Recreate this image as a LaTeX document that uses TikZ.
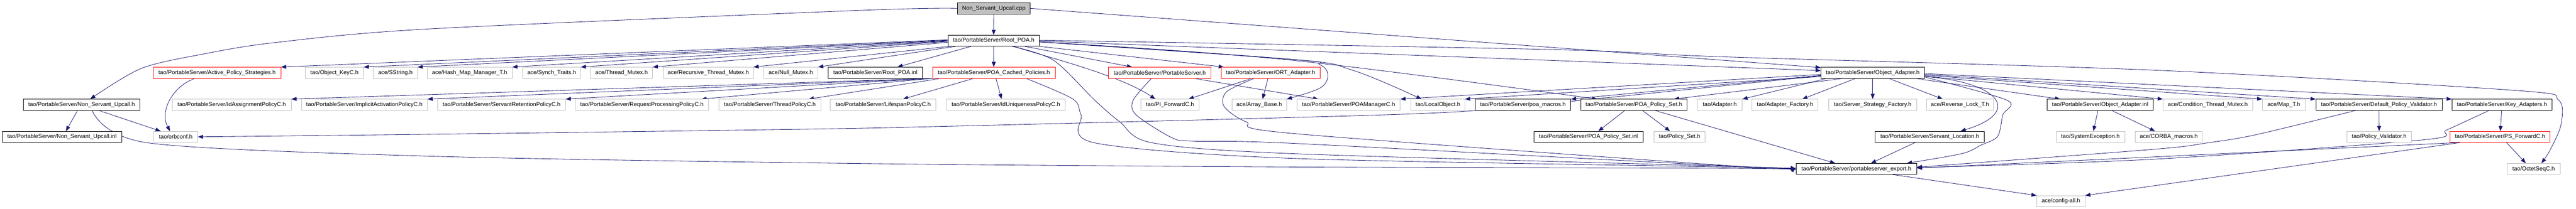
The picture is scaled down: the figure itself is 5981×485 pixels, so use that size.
\documentclass[tikz,border=0pt]{standalone}
\usepackage{fontspec}
\setmainfont{Liberation Sans}
\usetikzlibrary{arrows.meta,backgrounds}
\definecolor{edgeblue}{HTML}{191970}
\definecolor{grey75}{HTML}{BFBFBF}

\begin{document}
\begin{tikzpicture}[x=1pt,y=-1pt,
    hdr/.style={draw=black,fill=white,line width=1pt,inner sep=0pt,minimum height=25.5pt,font=\fontsize{13.3}{16}\selectfont},
    sys/.style={hdr,draw=grey75},
    bad/.style={hdr,draw=red},
    srcfile/.style={hdr,fill=grey75},
    inc/.style={draw=edgeblue,line width=1pt,-{Triangle[length=12pt,width=9pt]}}]
  \useasboundingbox (0,0) rectangle (5981,485);

  \node[srcfile,minimum width=169] (cpp) at (2307.5,19.5) {Non\_Servant\_Upcall.cpp};
  \node[hdr,minimum width=212] (rpoa) at (2307,94.5) {tao/PortableServer/Root\_POA.h};
  % row 2
  \node[bad,minimum width=296] (aps) at (504,169) {tao/PortableServer/Active\_Policy\_Strategies.h};
  \node[sys,minimum width=135] (okey) at (776.5,169) {tao/Object\_KeyC.h};
  \node[sys,minimum width=102] (sstr) at (918,169) {ace/SString.h};
  \node[sys,minimum width=197] (hmap) at (1090.5,169) {ace/Hash\_Map\_Manager\_T.h};
  \node[sys,minimum width=134] (synch) at (1281,169) {ace/Synch\_Traits.h};
  \node[sys,minimum width=144] (tmutex) at (1443,169) {ace/Thread\_Mutex.h};
  \node[sys,minimum width=209] (rtmutex) at (1644.5,169) {ace/Recursive\_Thread\_Mutex.h};
  \node[sys,minimum width=126] (nmutex) at (1836,169) {ace/Null\_Mutex.h};
  \node[hdr,minimum width=219] (rpoainl) at (2032.5,169) {tao/PortableServer/Root\_POA.inl};
  \node[bad,minimum width=285] (cached) at (2307.5,169) {tao/PortableServer/POA\_Cached\_Policies.h};
  \node[bad,minimum width=239] (pserver) at (2692.5,169) {tao/PortableServer/PortableServer.h};
  \node[bad,minimum width=230] (ort) at (2950,169) {tao/PortableServer/ORT\_Adapter.h};
  \node[hdr,minimum width=240] (oa) at (4348,169) {tao/PortableServer/Object\_Adapter.h};
  % row 3
  \node[hdr,minimum width=271] (nsuh) at (189.5,243.5) {tao/PortableServer/Non\_Servant\_Upcall.h};
  \node[sys,minimum width=276] (idassign) at (538,243.5) {tao/PortableServer/IdAssignmentPolicyC.h};
  \node[sys,minimum width=292] (implact) at (846,243.5) {tao/PortableServer/ImplicitActivationPolicyC.h};
  \node[sys,minimum width=297] (servret) at (1164.5,243.5) {tao/PortableServer/ServantRetentionPolicyC.h};
  \node[sys,minimum width=309] (reqproc) at (1490.5,243.5) {tao/PortableServer/RequestProcessingPolicyC.h};
  \node[sys,minimum width=237] (threadp) at (1787.5,243.5) {tao/PortableServer/ThreadPolicyC.h};
  \node[sys,minimum width=245] (lifespan) at (2050.5,243.5) {tao/PortableServer/LifespanPolicyC.h};
  \node[sys,minimum width=275] (iduniq) at (2335.5,243.5) {tao/PortableServer/IdUniquenessPolicyC.h};
  \node[sys,minimum width=135] (piforw) at (2716.5,243.5) {tao/PI\_ForwardC.h};
  \node[sys,minimum width=127] (arrbase) at (2923.5,243.5) {ace/Array\_Base.h};
  \node[sys,minimum width=240] (poamgr) at (3131,243.5) {tao/PortableServer/POAManagerC.h};
  \node[sys,minimum width=125] (localobj) at (3338.5,243.5) {tao/LocalObject.h};
  \node[hdr,minimum width=222] (macros) at (3536,243.5) {tao/PortableServer/poa\_macros.h};
  \node[hdr,minimum width=247] (pset) at (3793.5,243.5) {tao/PortableServer/POA\_Policy\_Set.h};
  \node[sys,minimum width=104] (adapter) at (3993,243.5) {tao/Adapter.h};
  \node[sys,minimum width=153] (adfact) at (4144.5,243.5) {tao/Adapter\_Factory.h};
  \node[sys,minimum width=204] (ssfact) at (4348,243.5) {tao/Server\_Strategy\_Factory.h};
  \node[sys,minimum width=155] (revlock) at (4550.5,243.5) {ace/Reverse\_Lock\_T.h};
  \node[hdr,minimum width=246] (oainl) at (4876,243.5) {tao/PortableServer/Object\_Adapter.inl};
  \node[sys,minimum width=208] (condmutex) at (5126,243.5) {ace/Condition\_Thread\_Mutex.h};
  \node[sys,minimum width=99] (mapt) at (5302.5,243.5) {ace/Map\_T.h};
  \node[hdr,minimum width=293] (defval) at (5523.5,243.5) {tao/PortableServer/Default\_Policy\_Validator.h};
  \node[hdr,minimum width=232] (keyad) at (5809,243.5) {tao/PortableServer/Key\_Adapters.h};
  % row 4
  \node[hdr,minimum width=278] (nsuinl) at (144,318) {tao/PortableServer/Non\_Servant\_Upcall.inl};
  \node[sys,minimum width=102] (orbconf) at (408,318) {tao/orbconf.h};
  \node[hdr,minimum width=254] (psetinl) at (3688,318) {tao/PortableServer/POA\_Policy\_Set.inl};
  \node[sys,minimum width=119] (policyset) at (3899.5,318) {tao/Policy\_Set.h};
  \node[hdr,minimum width=253] (servloc) at (4480.5,318) {tao/PortableServer/Servant\_Location.h};
  \node[sys,minimum width=159] (sysexc) at (4853.5,318) {tao/SystemException.h};
  \node[sys,minimum width=155] (corbam) at (5035.5,318) {ace/CORBA\_macros.h};
  \node[sys,minimum width=150] (polval) at (5524,318) {tao/Policy\_Validator.h};
  \node[bad,minimum width=233] (psforw) at (5804.5,318) {tao/PortableServer/PS\_ForwardC.h};
  % rows 5 and 6
  \node[hdr,minimum width=280] (export) at (4310,392.5) {tao/PortableServer/portableserver\_export.h};
  \node[sys,minimum width=123] (octet) at (5882.5,392.5) {tao/OctetSeqC.h};
  \node[sys,minimum width=112] (config) at (4785,467.5) {ace/config-all.h};

  \begin{pgfonlayer}{background}
    % Non_Servant_Upcall.cpp
    \draw[inc] (cpp) -- (rpoa);
    \draw[inc] plot[smooth,tension=0.5] coordinates {(cpp.west) (2000,24) (1000,67) (638,99) (475,125) (328,159) ([xshift=20pt]nsuh.north)};
    \draw[inc] (cpp.east) -- ([yshift=12pt]oa.west);
    % Root_POA.h
    \draw[inc] ([yshift=2pt]rpoa.west) -- (aps.north east);
    \draw[inc] ([yshift=1pt]rpoa.west) -- (okey.north east);
    \draw[inc] (rpoa.west) -- (sstr.north east);
    \draw[inc] ([yshift=-1pt]rpoa.west) -- (hmap.north east);
    \draw[inc] ([yshift=-2pt]rpoa.west) -- (synch.north east);
    \draw[inc] ([yshift=-4pt]rpoa.west) -- (tmutex.north east);
    \draw[inc] ([xshift=4pt]rpoa.south west) -- (rtmutex.north east);
    \draw[inc] ([xshift=18pt]rpoa.south west) -- (nmutex.north east);
    \draw[inc] ([xshift=54pt]rpoa.south west) -- ([xshift=51pt]rpoainl.north);
    \draw[inc] (rpoa) -- (cached);
    \draw[inc] ([xshift=179pt]rpoa.south west) -- ([xshift=-64pt]pserver.north);
    \draw[inc] (rpoa.south east) -- ([xshift=7pt]ort.north west);
    \draw[inc] ([xshift=153pt]rpoa.south west) .. controls (2440,135) and (2600,175) .. ([xshift=-34pt]piforw.north);
    \draw[inc] plot[smooth,tension=0.5] coordinates {([xshift=150pt]rpoa.south west) (2446,140) (2542,233) (2600,283) (2676,332) (3000,357) (4000,386) ([yshift=1pt]export.west)};
    \draw[inc] plot[smooth,tension=0.6] coordinates {([yshift=-3pt]rpoa.east) (3000,138) (3064,150) (3083,175) (3064,205) (arrbase.north east)};
    \draw[inc] plot[smooth,tension=0.6] coordinates {([yshift=-3pt]rpoa.east) (3000,138) (3140,163) ([xshift=-38pt]localobj.north)};
    \draw[inc] plot[smooth,tension=0.6] coordinates {([yshift=-3pt]rpoa.east) (3000,140) ([xshift=-85pt]pset.north)};
    \draw[inc] ([yshift=-1pt]rpoa.east) -- ([yshift=5pt]oa.west);
    \draw[inc] plot[smooth,tension=0.5] coordinates {([yshift=1pt]rpoa.east) (3600,115) (4000,132) (5000,163) (5839,210) (5940,232) (5946,290) (5920,350) ([xshift=18pt]octet.north)};
    % POA_Cached_Policies.h
    \draw[inc] (cached.south west) -- (idassign.north east);
    \draw[inc] (cached.south west) -- (implact.north east);
    \draw[inc] (cached.south west) -- (servret.north east);
    \draw[inc] (cached.south west) -- ([xshift=-17pt]reqproc.north east);
    \draw[inc] ([xshift=20pt]cached.south west) -- ([xshift=-29pt]threadp.north east);
    \draw[inc] ([xshift=96pt]cached.south west) -- ([xshift=46pt]lifespan.north);
    \draw[inc] ([xshift=5pt]cached.south) -- ([xshift=-10pt]iduniq.north);
    \draw[inc] plot[smooth,tension=0.5] coordinates {([xshift=75pt]cached.south) (2491,230) (2510,267) (2542,332) (3000,368) (4000,388) ([yshift=-1pt]export.west)};
    % PortableServer.h and ORT_Adapter.h
    \draw[inc] ([xshift=80pt]pserver.south) -- ([xshift=-70pt]poamgr.north);
    \draw[inc] plot[smooth,tension=0.5] coordinates {([xshift=-19pt]pserver.south) (2631,233) (2638,267) (2721,320) (2772,328) (3000,333) (4000,385) ([yshift=2pt]export.west)};
    \draw[inc] ([xshift=-44pt]ort.south) -- ([xshift=43pt]piforw.north);
    \draw[inc] ([xshift=-6pt]ort.south) -- ([xshift=8pt]arrbase.north);
    \draw[inc] plot[smooth,tension=0.5] coordinates {([xshift=-38pt]ort.south) (2848,213) (2842,247) (2893,283) (3000,310) (4000,384) ([yshift=3pt]export.west)};
    % Non_Servant_Upcall.h and Active_Policy_Strategies.h
    \draw[inc] ([xshift=-9.5pt]nsuh.south) -- ([xshift=9pt]nsuinl.north);
    \draw[inc] ([xshift=40pt]nsuh.south) -- ([xshift=-35pt]orbconf.north);
    \draw[inc] plot[smooth,tension=0.5] coordinates {([xshift=24.5pt]nsuh.south) (344,332) (1000,363) (2000,380) (3000,388) (4000,391) ([yshift=-2pt]export.west)};
    \draw[inc] ([xshift=-51pt]aps.south) .. controls (400,200) and (370,260) .. ([xshift=-13pt]orbconf.north);
    % Object_Adapter.h
    \draw[inc] ([yshift=-4pt]oa.west) -- (poamgr.north east);
    \draw[inc] ([yshift=-6pt]oa.west) -- (macros.north east);
    \draw[inc] plot[smooth,tension=0.3] coordinates {([yshift=-7pt]oa.west) (3424,257) (3000,273) (2000,298) (1000,312) (orbconf.east)};
    \draw[inc] ([yshift=-9pt]oa.west) -- (localobj.north east);
    \draw[inc] ([xshift=53pt]oa.south west) -- ([xshift=-31pt]pset.north east);
    \draw[inc] ([xshift=14pt]oa.south west) -- (adapter.north east);
    \draw[inc] ([xshift=81pt]oa.south west) -- ([xshift=40pt]adfact.north);
    \draw[inc] (oa) -- (ssfact);
    \draw[inc] ([xshift=158pt]oa.south west) -- ([xshift=-40pt]revlock.north);
    \draw[inc] ([xshift=-22pt]oa.south east) -- ([xshift=31pt]oainl.north west);
    \draw[inc] ([yshift=-8pt]oa.east) -- (condmutex.north west);
    \draw[inc] ([yshift=-6pt]oa.east) -- (mapt.north west);
    \draw[inc] ([yshift=-4pt]oa.east) -- (defval.north west);
    \draw[inc] ([yshift=-2pt]oa.east) -- (keyad.north west);
    \draw[inc] ([yshift=-9pt]oa.east) .. controls (4640,190) and (4700,260) .. ([xshift=71.5pt]servloc.north);
    \draw[inc] plot[smooth,tension=0.5] coordinates {([yshift=-10pt]oa.east) (4660,233) (4650,267) (4638,317) (4600,337) (4555,357) ([xshift=-23pt]export.north east)};
    % second level
    \draw[inc] ([xshift=-21pt]pset.south) -- ([xshift=23pt]psetinl.north);
    \draw[inc] ([xshift=20pt]pset.south) -- ([xshift=-22pt]policyset.north);
    \draw[inc] ([xshift=49pt]pset.south) -- ([xshift=-49pt]export.north);
    \draw[inc] ([xshift=-34pt]servloc.south) -- ([xshift=34pt]export.north);
    \draw[inc] ([xshift=-5pt]oainl.south) -- ([xshift=7pt]sysexc.north);
    \draw[inc] ([xshift=27pt]oainl.south) -- ([xshift=-32pt]corbam.north);
    \draw[inc] (defval) -- (polval);
    \draw[inc] plot[smooth,tension=0.5] coordinates {([xshift=-54pt]defval.south) (5238,313) (5125,332) (5000,347) ([yshift=4pt]export.east)};
    \draw[inc] (keyad) -- (psforw);
    \draw[inc] plot[smooth,tension=0.5] coordinates {([xshift=-30pt]keyad.south) (5681,302) (5626,325) (5000,370) ([yshift=3pt]export.east)};
    \draw[inc] ([xshift=23pt]psforw.south west) -- ([yshift=2pt]export.east);
    \draw[inc] ([xshift=15pt]psforw.south) -- ([xshift=-18pt]octet.north);
    \draw[inc] ([xshift=25pt]psforw.south west) -- (config.north east);
    \draw[inc] ([xshift=85pt]export.south) -- (config.north west);
  \end{pgfonlayer}
\end{tikzpicture}
\end{document}
